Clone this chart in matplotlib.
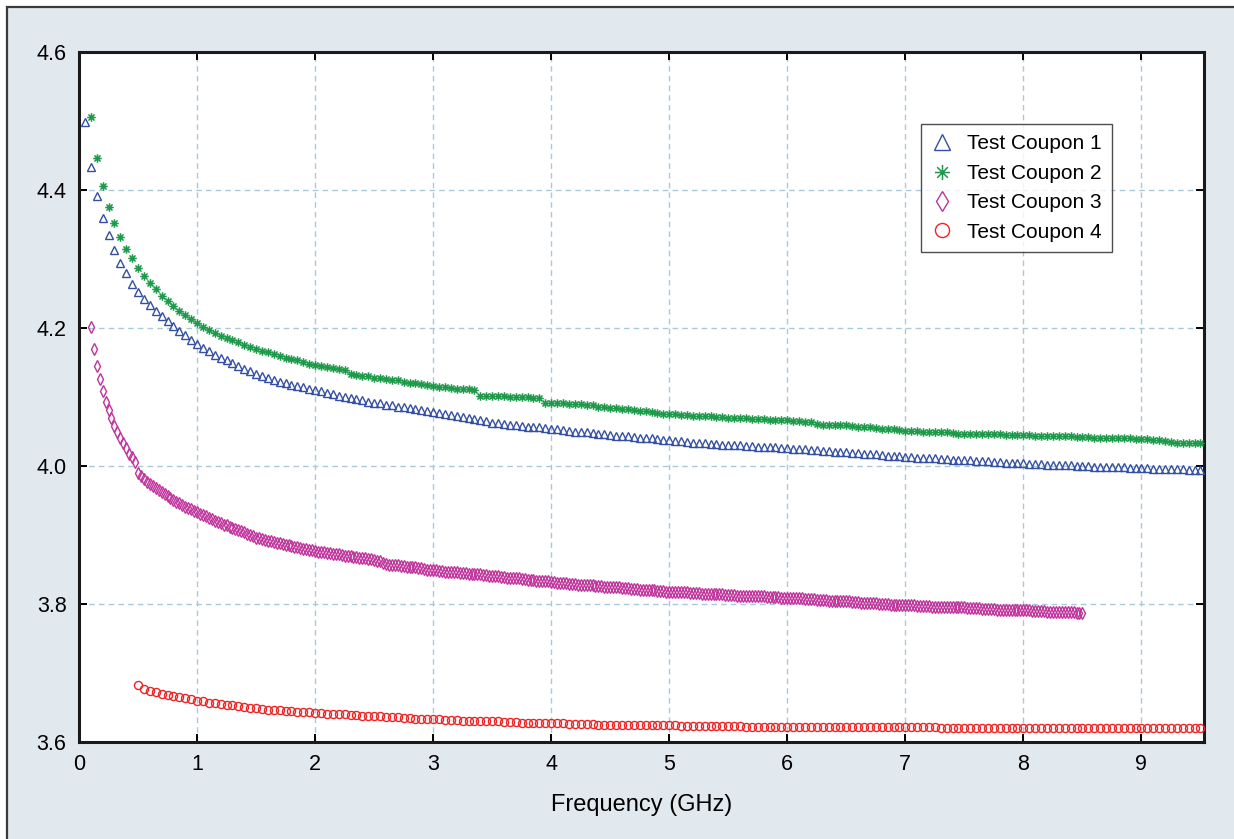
import numpy as np
import matplotlib
matplotlib.use("Agg")
import matplotlib.pyplot as plt
from matplotlib.path import Path
from matplotlib.patches import Rectangle

plt.rcParams['font.family'] = ['Liberation Sans', 'DejaVu Sans']

# ---------------- data (values x1000) ----------------
labels = ["Test Coupon 1", "Test Coupon 2", "Test Coupon 3", "Test Coupon 4"]

# sweep grids: (start GHz, step GHz, number of points)
sweep_c1 = (0.05, 0.05, 190)
sweep_c2 = (0.10, 0.05, 189)
sweep_c3 = (0.10, 0.025, 337)
sweep_c4 = (0.50, 0.05, 181)

coupon1 = [4499, 4433, 4391, 4359, 4335, 4313, 4294, 4280, 4264, 4252,
           4242, 4233, 4225, 4217, 4210, 4203, 4196, 4190, 4183, 4177,
           4171, 4166, 4161, 4157, 4153, 4149, 4145, 4141, 4138, 4134,
           4131, 4128, 4125, 4122, 4120, 4118, 4116, 4114, 4112, 4110,
           4108, 4106, 4104, 4102, 4100, 4098, 4097, 4095, 4093, 4092,
           4091, 4089, 4088, 4086, 4085, 4084, 4082, 4081, 4079, 4078,
           4077, 4075, 4074, 4072, 4071, 4069, 4068, 4066, 4065, 4063,
           4062, 4061, 4060, 4059, 4058, 4057, 4057, 4056, 4055, 4054,
           4053, 4052, 4051, 4050, 4049, 4049, 4048, 4047, 4046, 4045,
           4044, 4044, 4043, 4042, 4041, 4040, 4040, 4039, 4038, 4037,
           4036, 4036, 4035, 4034, 4034, 4033, 4032, 4032, 4031, 4031,
           4030, 4030, 4029, 4029, 4028, 4028, 4027, 4027, 4026, 4026,
           4025, 4024, 4024, 4023, 4023, 4022, 4022, 4021, 4021, 4020,
           4019, 4019, 4018, 4017, 4017, 4016, 4015, 4015, 4014, 4013,
           4013, 4012, 4012, 4011, 4011, 4010, 4010, 4009, 4009, 4008,
           4008, 4007, 4007, 4007, 4006, 4006, 4005, 4005, 4004, 4004,
           4003, 4003, 4003, 4002, 4002, 4002, 4001, 4001, 4000, 4000,
           4000, 3999, 3999, 3999, 3998, 3998, 3998, 3997, 3997, 3997,
           3997, 3996, 3996, 3996, 3995, 3995, 3995, 3994, 3994, 3994]

coupon2 = [4506, 4446, 4406, 4375, 4352, 4332, 4314, 4301, 4287,
           4276, 4265, 4256, 4247, 4239, 4232, 4225, 4219, 4213, 4207,
           4202, 4197, 4193, 4189, 4186, 4182, 4179, 4176, 4173, 4170,
           4167, 4165, 4162, 4160, 4157, 4155, 4153, 4151, 4148, 4146,
           4145, 4144, 4142, 4141, 4139, 4133, 4132, 4131, 4130, 4128,
           4127, 4126, 4125, 4124, 4122, 4121, 4120, 4119, 4118, 4116,
           4115, 4114, 4113, 4112, 4112, 4111, 4110, 4102, 4102, 4101,
           4101, 4101, 4100, 4100, 4100, 4100, 4099, 4099, 4092, 4091,
           4091, 4091, 4090, 4090, 4090, 4089, 4089, 4085, 4085, 4084,
           4084, 4083, 4082, 4081, 4080, 4079, 4078, 4077, 4076, 4075,
           4075, 4074, 4074, 4073, 4073, 4072, 4072, 4071, 4071, 4070,
           4070, 4069, 4069, 4068, 4068, 4068, 4067, 4067, 4066, 4066,
           4065, 4065, 4064, 4064, 4061, 4060, 4060, 4059, 4059, 4059,
           4058, 4057, 4057, 4056, 4055, 4054, 4054, 4053, 4052, 4051,
           4051, 4051, 4050, 4050, 4050, 4050, 4049, 4048, 4047, 4047,
           4047, 4046, 4046, 4046, 4046, 4046, 4045, 4045, 4045, 4045,
           4045, 4044, 4044, 4044, 4043, 4043, 4043, 4043, 4042, 4042,
           4042, 4041, 4041, 4041, 4040, 4040, 4040, 4040, 4039, 4039,
           4039, 4038, 4038, 4036, 4035, 4034, 4034, 4034, 4034, 4034]

coupon3 = [4202, 4170, 4145, 4126, 4109, 4093, 4081, 4069, 4058, 4050,
           4040, 4033, 4026, 4018, 4013, 4006,
           3990, 3985, 3981, 3977, 3974, 3971, 3968, 3965, 3962, 3959,
           3956, 3953, 3951, 3948, 3946, 3943, 3941, 3939, 3937, 3935, 3933,
           3931, 3929, 3927, 3925, 3923, 3921, 3919, 3917, 3915, 3914,
           3912, 3910, 3909, 3907, 3906, 3904, 3902, 3900, 3898, 3896,
           3895, 3894, 3893, 3892, 3891, 3890, 3889, 3888, 3887, 3886,
           3885, 3884, 3883, 3882, 3881, 3880, 3879, 3878, 3878, 3877,
           3876, 3876, 3875, 3874, 3874, 3873, 3872, 3872, 3871, 3870,
           3870, 3869, 3868, 3868, 3867, 3866, 3866, 3865, 3865, 3864,
           3863, 3862, 3860, 3858, 3857, 3857, 3856, 3856, 3855, 3855,
           3854, 3854, 3853, 3853, 3852, 3852, 3851, 3850, 3850, 3849,
           3849, 3848, 3848, 3847, 3847, 3847, 3846, 3846, 3845, 3845,
           3845, 3844, 3844, 3843, 3843, 3843, 3842, 3842, 3841, 3841,
           3840, 3840, 3839, 3839, 3838, 3838, 3838, 3837, 3837, 3836,
           3836, 3835, 3835, 3835, 3834, 3834, 3833, 3833, 3833, 3832,
           3832, 3831, 3831, 3830, 3830, 3829, 3829, 3829, 3828, 3828,
           3828, 3827, 3827, 3827, 3826, 3826, 3826, 3825, 3825, 3825,
           3824, 3824, 3824, 3823, 3823, 3823, 3822, 3822, 3822, 3821,
           3821, 3821, 3820, 3820, 3820, 3819, 3819, 3819, 3818, 3818,
           3818, 3818, 3817, 3817, 3817, 3817, 3816, 3816, 3816, 3816,
           3815, 3815, 3815, 3815, 3814, 3814, 3814, 3814, 3813, 3813,
           3813, 3813, 3812, 3812, 3812, 3812, 3812, 3811, 3811, 3811,
           3811, 3811, 3810, 3810, 3810, 3810, 3810, 3809, 3809, 3809,
           3809, 3808, 3808, 3808, 3808, 3807, 3807, 3807, 3807, 3806,
           3806, 3806, 3806, 3805, 3805, 3805, 3805, 3804, 3804, 3804,
           3804, 3803, 3803, 3803, 3802, 3802, 3802, 3801, 3801, 3801,
           3800, 3800, 3800, 3800, 3799, 3799, 3799, 3799, 3798, 3798,
           3798, 3798, 3798, 3797, 3797, 3797, 3797, 3797, 3796, 3796,
           3796, 3796, 3796, 3796, 3795, 3795, 3795, 3795, 3795, 3795,
           3794, 3794, 3794, 3794, 3794, 3793, 3793, 3793, 3793, 3793,
           3792, 3792, 3792, 3792, 3792, 3792, 3791, 3791, 3791, 3791,
           3791, 3791, 3790, 3790, 3790, 3790, 3790, 3789, 3789, 3789,
           3789, 3789, 3788, 3788, 3788, 3788, 3788, 3787, 3787, 3787]

coupon4 = [3682, 3677, 3674, 3672, 3670, 3668, 3666, 3665, 3664, 3662, 3660,
           3659, 3657, 3656, 3655, 3654, 3653, 3652, 3651, 3650, 3649,
           3648, 3647, 3647, 3646, 3645, 3645, 3644, 3643, 3643, 3642,
           3642, 3641, 3641, 3640, 3640, 3639, 3639, 3638, 3638, 3637,
           3637, 3636, 3636, 3636, 3635, 3635, 3634, 3634, 3634, 3633,
           3633, 3632, 3632, 3632, 3631, 3631, 3631, 3630, 3630, 3630,
           3630, 3629, 3629, 3629, 3628, 3628, 3628, 3628, 3627, 3627,
           3627, 3627, 3626, 3626, 3626, 3626, 3626, 3625, 3625, 3625,
           3625, 3625, 3625, 3624, 3624, 3624, 3624, 3624, 3624, 3624,
           3624, 3623, 3623, 3623, 3623, 3623, 3623, 3623, 3623, 3623,
           3623, 3623, 3622, 3622, 3622, 3622, 3622, 3622, 3622, 3622,
           3622, 3622, 3622, 3622, 3622, 3622, 3622, 3622, 3622, 3622,
           3622, 3622, 3622, 3622, 3622, 3622, 3622, 3622, 3622, 3622,
           3622, 3622, 3622, 3622, 3622, 3621, 3621, 3621, 3621, 3621,
           3621, 3621, 3621, 3621, 3621, 3621, 3621, 3621, 3621, 3621,
           3621, 3621, 3621, 3621, 3621, 3621, 3621, 3621, 3621, 3621,
           3621, 3621, 3621, 3621, 3621, 3621, 3621, 3621, 3621, 3621,
           3621, 3621, 3621, 3621, 3621, 3621, 3621, 3621, 3621, 3621]

x_ticks = [0, 1, 2, 3, 4, 5, 6, 7, 8, 9]
y_ticks = [3.6, 3.8, 4.0, 4.2, 4.4, 4.6]
y_ticklabels = ["3.6", "3.8", "4.0", "4.2", "4.4", "4.6"]
x_label = "Frequency (GHz)"


def sweep(spec):
    start, step, n = spec
    return start + step * np.arange(n)


# ---------------- figure ----------------
W, H = 1234, 839
fig = plt.figure(figsize=(W / 100, H / 100), dpi=100)
fig.patch.set_facecolor("white")
bg = Rectangle((7 / W, -0.01), 1.02, 1 - 7 / H + 0.01, transform=fig.transFigure,
               facecolor="#e1e8ee", edgecolor="#3a3a3a", linewidth=1.6, zorder=-10)
fig.add_artist(bg)

ax = fig.add_axes([79 / W, 1 - 742 / H, (1204 - 79) / W, (742 - 52) / H])
ax.set_zorder(1)
ax.set_facecolor("white")

d = 0.7071
ast = Path([(-1, 0), (1, 0), (0, -1), (0, 1), (-d, -d), (d, d), (-d, d), (d, -d)],
           [Path.MOVETO, Path.LINETO] * 4)

styles = [
    dict(marker="^", color="#3550a3", ms=6.2, mew=1.0),
    dict(marker=ast, color="#1c9a4a", ms=6.2, mew=1.1),
    dict(marker="d", color="#c0329c", ms=5.8, mew=1.0),
    dict(marker="o", color="#ee2424", ms=5.8, mew=1.0),
]
series = [(sweep(sweep_c1), coupon1), (sweep(sweep_c2), coupon2),
          (sweep(sweep_c3), coupon3), (sweep(sweep_c4), coupon4)]

for (xs, ys), st, lab in zip(series, styles, labels):
    ax.plot(xs, np.array(ys) / 1000.0, linestyle="none", marker=st["marker"],
            markersize=st["ms"], markerfacecolor="none",
            markeredgecolor=st["color"], markeredgewidth=st["mew"], label=lab,
            zorder=3)

ax.set_xlim(0, 9.53)
ax.set_ylim(3.6, 4.6)
ax.set_xticks(x_ticks)
ax.set_yticks(y_ticks)
ax.set_yticklabels(y_ticklabels)
ax.grid(True, color="#a9c8da", linestyle=(0, (4, 3)), linewidth=1.0, zorder=1)
ax.set_axisbelow(True)
ax.tick_params(axis="both", which="both", direction="in", length=6, width=1.4,
               top=True, right=True, labelsize=15.5, colors="black", pad=9)
for sp in ax.spines.values():
    sp.set_linewidth(2.2)
    sp.set_color("#1a1a1a")

ax.set_xlabel(x_label, fontsize=17, labelpad=13)

leg = ax.legend(loc="upper left", bbox_to_anchor=((921 - 79) / 1125, (742 - 124) / 690),
                borderaxespad=0, fontsize=15, frameon=True, fancybox=False,
                edgecolor="#222222", handlelength=1.0, handletextpad=0.7,
                borderpad=0.5, labelspacing=0.5, markerscale=1.75)
leg.get_frame().set_linewidth(1.0)

fig.savefig("out.png", dpi=100, facecolor=fig.get_facecolor())
